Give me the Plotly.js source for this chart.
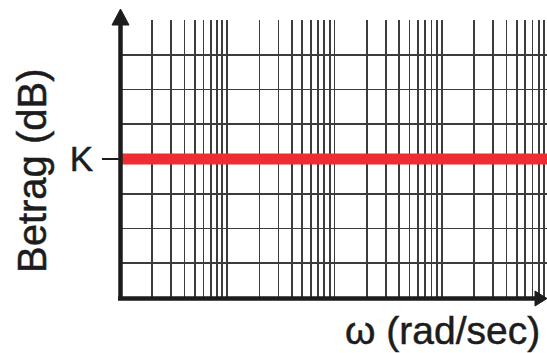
<!DOCTYPE html>
<html>
<head>
<meta charset="utf-8">
<script src="https://cdn.plot.ly/plotly-3.0.1.min.js"></script>
<style>
  html, body { margin: 0; padding: 0; background: #fff; }
  #chart { width: 547px; height: 353px; }
  /* slightly heavier lettering */
  #chart text { stroke: #1c1c1c; stroke-width: 0.5px; }
</style>
</head>
<body>
<div id="chart"></div>
<script>
// Bode magnitude plot of a constant gain K on semi-log paper
const decades = [1, 10, 100, 1000];          // decade starts of the log grid
const mantissas = [1, 2, 3, 4, 5, 6, 7, 8, 9]; // grid lines inside each decade
const omegaSpan = [1, 9550];                 // frequency span of the gain line (rad/sec)
const gainK = [4, 4];                        // magnitude of the constant gain, in grid units
const magTicks = [0, 1, 2, 3, 4, 5, 6, 7, 8]; // horizontal grid levels
const kTickVal = [4];
const kTickText = ['K'];

const gridVals = [];
decades.forEach(d => mantissas.forEach(m => gridVals.push(d * m)));

const FONT = 'Liberation Sans, Arial, sans-serif';
const INK = '#1c1c1c';
const GRID = '#3c3c3c';

const data = [
  {
    x: omegaSpan,
    y: gainK,
    xaxis: 'x',
    yaxis: 'y',
    mode: 'lines',
    line: { color: '#ee2d32', width: 11 },
    hoverinfo: 'skip',
    showlegend: false
  },
  {
    // carrier for the K tick axis
    x: [omegaSpan[0]],
    y: [gainK[0]],
    xaxis: 'x',
    yaxis: 'y2',
    mode: 'markers',
    marker: { opacity: 0 },
    hoverinfo: 'skip',
    showlegend: false
  }
];

// paper-coordinate helpers for the axis arrows (plot area 427 x 278 px)
const px = v => (v - 120) / 427;
const py = v => (298 - v) / 278;

const layout = {
  width: 547,
  height: 353,
  margin: { l: 120, r: 0, t: 20, b: 55, pad: 0 },
  paper_bgcolor: '#ffffff',
  plot_bgcolor: '#ffffff',
  showlegend: false,
  xaxis: {
    type: 'log',
    range: [0, 3.98],
    tickmode: 'array',
    tickvals: gridVals,
    showticklabels: false,
    ticks: '',
    showgrid: true,
    gridcolor: GRID,
    gridwidth: 1.8,
    zeroline: false,
    showline: false,
    fixedrange: true
  },
  yaxis: {
    range: [0, 8],
    tickmode: 'array',
    tickvals: magTicks,
    showticklabels: false,
    ticks: '',
    showgrid: true,
    gridcolor: GRID,
    gridwidth: 1.8,
    zeroline: false,
    showline: false,
    fixedrange: true
  },
  yaxis2: {
    overlaying: 'y',
    range: [0, 8],
    tickmode: 'array',
    tickvals: kTickVal,
    ticktext: kTickText,
    ticks: 'outside',
    ticklen: 17,
    tickwidth: 1.5,
    tickcolor: INK,
    ticklabelstandoff: 2,
    tickfont: { family: FONT, size: 35, color: INK },
    showgrid: false,
    zeroline: false,
    showline: false,
    fixedrange: true
  },
  shapes: [
    // vertical magnitude axis
    { type: 'line', xref: 'paper', yref: 'paper', x0: px(120.5), x1: px(120.5), y0: py(300), y1: py(22),
      line: { color: INK, width: 4.5 } },
    // horizontal frequency axis
    { type: 'line', xref: 'paper', yref: 'paper', x0: px(118), x1: px(538), y0: py(298.5), y1: py(298.5),
      line: { color: INK, width: 4.5 } },
    // arrowhead on the magnitude axis
    { type: 'path', xref: 'paper', yref: 'paper',
      path: `M ${px(120.5)} ${py(9)} L ${px(129)} ${py(25)} L ${px(112)} ${py(25)} Z`,
      fillcolor: INK, line: { color: INK, width: 1 } },
    // arrowhead on the frequency axis
    { type: 'path', xref: 'paper', yref: 'paper',
      path: `M ${px(547)} ${py(298.5)} L ${px(535)} ${py(291)} L ${px(535)} ${py(306)} Z`,
      fillcolor: INK, line: { color: INK, width: 1 } }
  ],
  annotations: [
    { text: 'Betrag (dB)', xref: 'paper', yref: 'paper', x: px(32), y: py(171),
      xanchor: 'center', yanchor: 'middle', textangle: -90, showarrow: false,
      font: { family: FONT, size: 40, color: INK } },
    { text: 'ω (rad/sec)', xref: 'paper', yref: 'paper', x: px(541), y: py(353),
      xanchor: 'right', yanchor: 'bottom', showarrow: false, borderpad: 0,
      font: { family: FONT, size: 39, color: INK } }
  ]
};

Plotly.newPlot('chart', data, layout, { staticPlot: true, displayModeBar: false });
</script>
</body>
</html>
